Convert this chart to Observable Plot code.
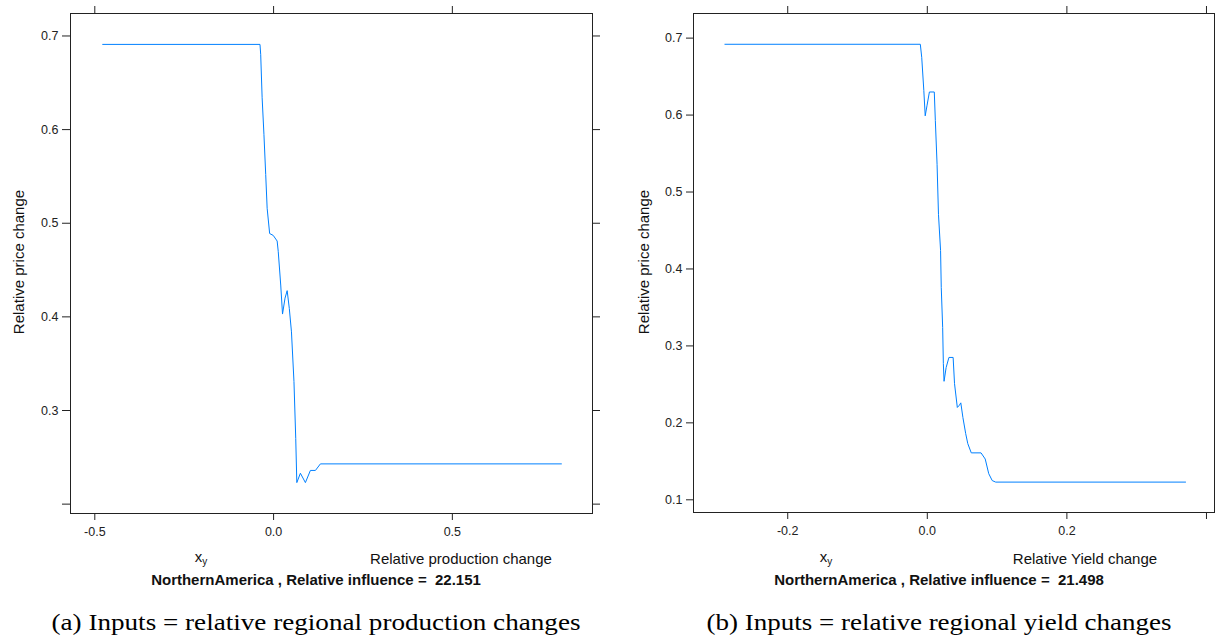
<!DOCTYPE html>
<html>
<head>
<meta charset="utf-8">
<script src="https://cdn.jsdelivr.net/npm/d3@7"></script>
<script src="https://cdn.jsdelivr.net/npm/@observablehq/plot@0.6"></script>
<style>
  html, body { margin: 0; padding: 0; background: #fff; }
  #wrap { position: relative; width: 1215px; height: 636px; overflow: hidden; background: #fff; }
  .p { position: absolute; top: 0; }
  .t { position: absolute; transform: translate(-50%, -50%); white-space: pre; font-family: "Liberation Sans", Arial, sans-serif; font-size: 15px; color: #111; }
  .b { font-weight: bold; }
  .cap { font-family: "Liberation Serif", "DejaVu Serif", serif; font-size: 24px; color: #000; }
  .rot { transform: translate(-50%, -50%) rotate(-90deg); }
  sub { font-size: 10px; vertical-align: -3px; }
</style>
</head>
<body>
<div id="wrap">
  <div id="pa" class="p" style="left:0px"></div>
  <div id="pb" class="p" style="left:607px"></div>

  <div class="t rot" style="left:18px; top:262px">Relative price change</div>
  <div class="t rot" style="left:643px; top:262px">Relative price change</div>

  <div class="t" style="left:201px; top:557px">x<sub>y</sub></div>
  <div class="t" style="left:461px; top:558px">Relative production change</div>
  <div class="t b" style="left:316px; top:579px">NorthernAmerica , Relative influence =  22.151</div>
  <div class="t cap" data-w="529" style="left:316px; top:622px">(a) Inputs = relative regional production changes</div>

  <div class="t" style="left:826px; top:557px">x<sub>y</sub></div>
  <div class="t" style="left:1085px; top:558px">Relative Yield change</div>
  <div class="t b" style="left:939px; top:579px">NorthernAmerica , Relative influence =  21.498</div>
  <div class="t cap" data-w="465" style="left:939px; top:622px">(b) Inputs = relative regional yield changes</div>
</div>
<script>
// ---- Panel (a): relative production change ----
const xA = [-0.478, -0.038, -0.036, -0.032, -0.027, -0.022, -0.018, -0.011, -0.001, 0.010, 0.013, 0.020, 0.025, 0.032, 0.038, 0.044, 0.050, 0.057, 0.062, 0.065, 0.075, 0.089, 0.103, 0.117, 0.131, 0.805];
const yA = [0.691, 0.691, 0.680, 0.634, 0.595, 0.552, 0.516, 0.489, 0.487, 0.481, 0.470, 0.434, 0.403, 0.420, 0.428, 0.409, 0.384, 0.331, 0.270, 0.223, 0.233, 0.223, 0.236, 0.236, 0.243, 0.243];
const xTicksA = [-0.5, 0.0, 0.5];
const xLabelsA = ["-0.5", "0.0", "0.5"];
const yTicksA = [0.2, 0.3, 0.4, 0.5, 0.6, 0.7];
const yLabelsA = ["", "0.3", "0.4", "0.5", "0.6", "0.7"];

// ---- Panel (b): relative yield change ----
const xB = [-0.290, -0.010, -0.008, -0.005, -0.003, -0.0005, 0.003, 0.010, 0.0115, 0.014, 0.016, 0.019, 0.020, 0.022, 0.023, 0.024, 0.027, 0.031, 0.037, 0.039, 0.043, 0.046, 0.048, 0.051, 0.055, 0.058, 0.063, 0.077, 0.083, 0.088, 0.093, 0.098, 0.370];
const yB = [0.692, 0.692, 0.675, 0.632, 0.599, 0.612, 0.630, 0.630, 0.593, 0.536, 0.471, 0.424, 0.376, 0.324, 0.277, 0.254, 0.272, 0.285, 0.285, 0.251, 0.220, 0.223, 0.226, 0.207, 0.186, 0.173, 0.161, 0.161, 0.153, 0.134, 0.125, 0.123, 0.123];
const xTicksB = [-0.2, 0.0, 0.2, 0.4];
const xLabelsB = ["-0.2", "0.0", "0.2", ""];
const yTicksB = [0.1, 0.2, 0.3, 0.4, 0.5, 0.6, 0.7];
const yLabelsB = ["0.1", "0.2", "0.3", "0.4", "0.5", "0.6", "0.7"];

const lineColor = "#0080ff";
const axisStyle = {fontFamily: "'Liberation Sans', Arial, sans-serif", fontSize: "12.5px", color: "#222", background: "transparent", overflow: "visible"};

function lbl(ticks, labels) { return d => { const i = ticks.indexOf(d); return i >= 0 ? labels[i] : ""; }; }

function panel({xs, ys, xTicks, xLabels, yTicks, yLabels, xDomain, yDomain, width, height, margins, rightTicks, yTickSize}) {
  const data = xs.map((x, i) => ({x, y: ys[i]}));
  const marks = [
    Plot.frame({stroke: "#222", strokeWidth: 1}),
    Plot.axisY({anchor: "left", ticks: yTicks, tickFormat: lbl(yTicks, yLabels), tickSize: yTickSize, tickPadding: 4, label: null, stroke: "#222"}),
    Plot.axisX({anchor: "bottom", ticks: xTicks, tickFormat: lbl(xTicks, xLabels), tickSize: 7, tickPadding: 7, label: null, stroke: "#222"}),
    Plot.axisX({anchor: "top", ticks: xTicks, tickFormat: () => "", tickSize: 8, label: null, stroke: "#222"}),
    Plot.line(data, {x: "x", y: "y", stroke: lineColor, strokeWidth: 1})
  ];
  if (rightTicks) marks.splice(2, 0, Plot.axisY({anchor: "right", ticks: yTicks, tickFormat: () => "", tickSize: 7, label: null, stroke: "#222"}));
  return Plot.plot({
    width, height,
    marginLeft: margins[0], marginRight: margins[1], marginTop: margins[2], marginBottom: margins[3],
    x: {domain: xDomain},
    y: {domain: yDomain},
    style: axisStyle,
    marks
  });
}

document.getElementById("pa").appendChild(panel({
  xs: xA, ys: yA, xTicks: xTicksA, xLabels: xLabelsA, yTicks: yTicksA, yLabels: yLabelsA,
  xDomain: [-0.568, 0.892], yDomain: [0.19, 0.724],
  width: 607, height: 530, margins: [70, 15, 13, 17], rightTicks: true, yTickSize: 8
}));

document.getElementById("pb").appendChild(panel({
  xs: xB, ys: yB, xTicks: xTicksB, xLabels: xLabelsB, yTicks: yTicksB, yLabels: yLabelsB,
  xDomain: [-0.335, 0.4115], yDomain: [0.0835, 0.732],
  width: 608, height: 530, margins: [86, 1, 13, 18], rightTicks: false, yTickSize: 7
}));

// stretch captions to the width of the reference's serif captions
document.querySelectorAll(".cap").forEach(el => {
  const w = el.getBoundingClientRect().width;
  const target = +el.dataset.w;
  el.style.transform = `translate(-50%, -50%) scaleX(${target / w})`;
});
</script>
</body>
</html>
